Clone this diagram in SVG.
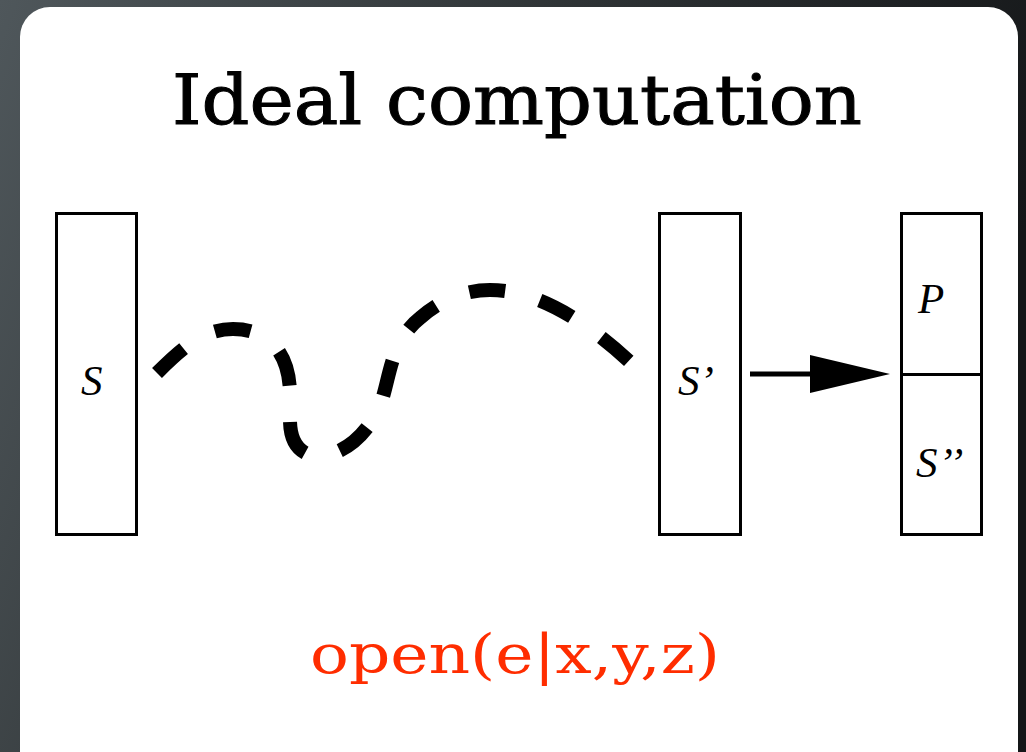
<svg xmlns="http://www.w3.org/2000/svg" width="1026" height="752" viewBox="0 0 1026 752">
  <defs>
    <linearGradient id="bg" x1="0" y1="0" x2="1" y2="0.3">
      <stop offset="0" stop-color="#4f575b"/>
      <stop offset="0.5" stop-color="#2f3436"/>
      <stop offset="1" stop-color="#141618"/>
    </linearGradient>
    <style>
      .box { fill: #ffffff; stroke: #000000; stroke-width: 3; }
      .lbl { font-family: "Liberation Serif", "Times New Roman", serif; font-style: italic; font-size: 43px; fill: #000000; }
      .title { font-family: "DejaVu Serif", serif; font-size: 70px; fill: #000000; stroke: #000000; stroke-width: 1; }
      .code { font-family: "DejaVu Serif", serif; font-size: 54px; fill: #ff2d00; }
    </style>
  </defs>
  <rect x="0" y="0" width="1026" height="752" fill="url(#bg)"/>
  <rect x="20" y="7" width="998" height="800" rx="30" ry="30" fill="#ffffff"/>

  <text class="title" x="172" y="124" textLength="690" lengthAdjust="spacingAndGlyphs">Ideal computation</text>

  <g id="nodeS">
    <rect class="box" x="56.5" y="213.5" width="80" height="321"/>
    <text class="lbl" x="81" y="395">S</text>
  </g>
  <g id="nodeS1">
    <rect class="box" x="659.5" y="213.5" width="81" height="321"/>
    <text class="lbl" x="678" y="395">S’</text>
  </g>
  <g id="nodePS">
    <rect class="box" x="901.5" y="213.5" width="80" height="321"/>
    <line x1="901.5" y1="374.5" x2="981.5" y2="374.5" stroke="#000" stroke-width="3"/>
    <text class="lbl" x="918" y="313">P</text>
    <text class="lbl" x="916" y="477" letter-spacing="1">S’’</text>
  </g>

  <g id="connectors">
    <path d="M157,373 C185,345 205,329 233,329 C268,329 290,352 290,395 L290,420 C290,445 303,456 318,456 C345,456 372,430 382,400 C390,375 392,340 420,318 C440,300 465,290 490,290 C540,290 590,325 630,362" fill="none" stroke="#000" stroke-width="14" stroke-dasharray="36 36"/>
    <line x1="750" y1="374" x2="812" y2="374" stroke="#000" stroke-width="5"/>
    <polygon points="810,355 890,374 810,393" fill="#000"/>
  </g>

  <text class="code" x="310" y="673" textLength="410" lengthAdjust="spacingAndGlyphs">open(e|x,y,z)</text>
</svg>
